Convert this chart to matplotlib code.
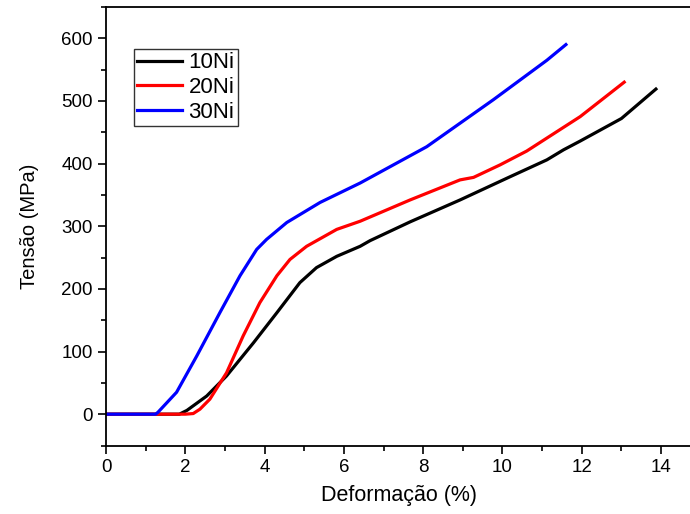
import numpy as np
import matplotlib
matplotlib.use('Agg')
import matplotlib.pyplot as plt
from matplotlib.ticker import MultipleLocator

plt.rcParams['font.family'] = ['Liberation Sans', 'DejaVu Sans']

# curvas tensao-deformacao
x10 = [0, 1.0, 1.85, 2.04, 2.54, 3.04, 3.72, 4.31, 4.89, 5.31, 5.82, 6.41, 6.66, 7.67,
       8.93, 10.19, 11.12, 11.54, 11.96, 13.0, 13.87]
y10 = [0, 0, 0, 6, 29, 61, 114, 162, 210, 234, 252, 268, 277, 307,
       342, 379, 406, 422, 436, 472, 519]

x20 = [0, 1.0, 2.0, 2.2, 2.37, 2.62, 3.04, 3.46, 3.88, 4.31, 4.64, 5.06, 5.82, 6.41,
       7.67, 8.93, 9.27, 9.94, 10.61, 11.96, 13.07]
y20 = [0, 0, 0, 1, 8, 24, 66, 125, 178, 221, 247, 268, 295, 308,
       342, 374, 378, 398, 420, 475, 530]

x30 = [0, 0.8, 1.25, 1.31, 1.78, 2.29, 2.88, 3.38, 3.80, 4.05, 4.56, 5.40, 6.41,
       8.09, 9.77, 11.12, 11.6]
y30 = [0, 0, 0, 3, 35, 93, 163, 221, 263, 279, 306, 338, 369,
       427, 502, 565, 590]

fig = plt.figure(figsize=(6.9, 5.14), dpi=100)
ax = fig.add_axes([106/690, 1 - 445.5/514, 586/690, 438.5/514])

ax.plot(x10, y10, color='black', lw=2.3, label='10Ni')
ax.plot(x20, y20, color='red', lw=2.3, label='20Ni')
ax.plot(x30, y30, color='blue', lw=2.3, label='30Ni')

ax.set_xlim(0, 14.78)
ax.set_ylim(-50, 650)
ax.xaxis.set_major_locator(MultipleLocator(2))
ax.xaxis.set_minor_locator(MultipleLocator(1))
ax.yaxis.set_major_locator(MultipleLocator(100))
ax.yaxis.set_minor_locator(MultipleLocator(50))
ax.tick_params(which='major', direction='out', length=6, width=1.2, labelsize=13.5)
ax.tick_params(which='minor', direction='out', length=3.5, width=1.2)
for s in ax.spines.values():
    s.set_linewidth(1.3)

ax.set_xlabel('Deformação (%)', fontsize=15.5)
ax.set_ylabel('Tensão (MPa)', fontsize=14.5)
ax.yaxis.set_label_coords(-0.114, 0.5)
ax.xaxis.set_label_coords(0.5, -0.09)

leg = ax.legend(loc='upper left', bbox_to_anchor=(0.048, 0.904), borderaxespad=0,
                fancybox=False, edgecolor='black', fontsize=16, handlelength=2.0,
                handletextpad=0.3, labelspacing=0.17, borderpad=0.15)
leg.get_frame().set_linewidth(1.0)

plt.savefig('out.png', dpi=100)
